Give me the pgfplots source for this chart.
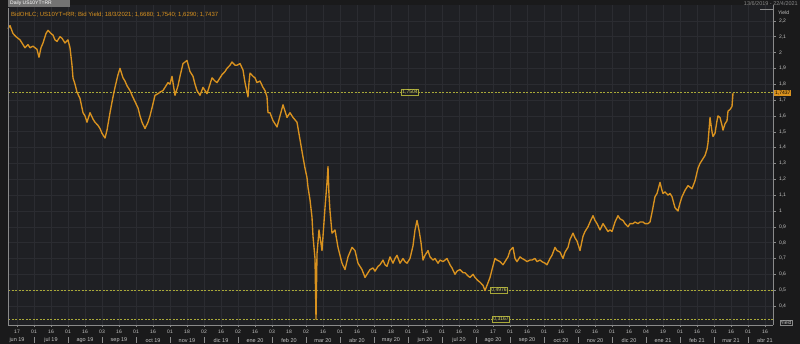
\documentclass[border=0pt]{standalone}
\usepackage{fontspec}
\setmainfont{Liberation Sans}
\usepackage{pgfplots}
\pgfplotsset{compat=1.18}
\definecolor{bgout}{HTML}{1A1A1B}
\definecolor{bgplot}{HTML}{1F2024}
\definecolor{gridc}{HTML}{2B2C31}
\definecolor{linec}{HTML}{D9921F}
\definecolor{refc}{HTML}{A8A838}
\definecolor{reft}{HTML}{D8D860}
\definecolor{axc}{HTML}{8A8A8A}
\definecolor{txt}{HTML}{C4C4C4}
\begin{document}
\begin{tikzpicture}[x=1pt,y=1pt]
\fill[bgout] (-8,-19) rectangle (792,325);
\useasboundingbox (-8,-19) rectangle (792,325);
\begin{axis}[
  at={(0,0)}, anchor=south west,
  scale only axis, width=765pt, height=320pt,
  xmin=8, xmax=773, ymin=0.28, ymax=2.30,
  clip=false,
  axis background/.style={fill=bgplot},
  axis x line*=bottom, axis y line*=right,
  axis line style={axc, line width=0.5pt, -},
  tick align=outside,
  major tick length=2.5pt,
  tick style={axc, line width=0.4pt},
  xtick={17,34,51,68,85,102,119,136,153,170,187,204,221,238,255,272,289,306,323,340,357,374,391,408,425,442,459,476,493,510,527,544,561,578,595,612,629,646,663,680,697,714,731,748,765},
  xticklabels={17,01,16,01,16,03,16,01,16,01,18,02,16,02,16,03,18,02,16,01,16,01,18,01,16,01,16,03,17,01,16,01,16,02,16,01,16,04,19,01,16,01,16,01,16},
  ytick={0.4,0.5,0.6,0.7,0.8,0.9,1.0,1.1,1.2,1.3,1.4,1.5,1.6,1.7,1.8,1.9,2.0,2.1,2.2},
  grid=major, major grid style={gridc, line width=0.5pt},
  ticklabel style={font=\fontsize{5}{6}\selectfont, text=txt},
  /pgf/number format/assume math mode=true,
  yticklabel style={/pgf/number format/.cd, use comma, fixed, precision=1},
  xticklabel style={inner sep=1pt, yshift=-1.2pt},
]
% reference levels
\addplot[refc, line width=0.6pt, dash pattern=on 2pt off 1.5pt] coordinates {(8,1.7504) (773,1.7504)};
\addplot[refc, line width=0.6pt, dash pattern=on 2pt off 1.5pt] coordinates {(8,0.4976) (773,0.4976)};
\addplot[refc, line width=0.6pt, dash pattern=on 2pt off 1.5pt] coordinates {(8,0.3167) (773,0.3167)};
% yield series
\addplot[linec, line width=1.35pt, line join=round] coordinates {
(8,2.15)(10,2.17)(13,2.12)(16,2.10)(20,2.08)(23,2.05)(25,2.03)(28,2.05)(30,2.03)(33,2.04)
(37,2.02)(39,1.97)(41,2.03)(43,2.06)(46,2.12)(48,2.14)(51,2.12)(53,2.11)(55,2.08)(57,2.07)
(60,2.10)(62,2.09)(65,2.06)(68,2.08)(70,2.03)(72,1.92)(73,1.84)(75,1.80)(77,1.75)(80,1.71)
(83,1.62)(85,1.60)(87,1.56)(90,1.62)(93,1.58)(95,1.56)(98,1.54)(100,1.52)(102,1.49)(105,1.46)
(107,1.51)(110,1.62)(113,1.72)(115,1.78)(118,1.86)(120,1.90)(123,1.84)(125,1.82)(127,1.79)(130,1.76)
(132,1.73)(135,1.69)(138,1.65)(140,1.60)(142,1.56)(145,1.52)(148,1.56)(150,1.60)(152,1.65)(155,1.73)
(158,1.74)(160,1.75)(163,1.76)(165,1.78)(168,1.81)(170,1.80)(172,1.85)(175,1.73)(178,1.79)(180,1.85)
(183,1.93)(187,1.95)(190,1.88)(193,1.85)(195,1.80)(197,1.76)(200,1.73)(203,1.78)(205,1.76)(207,1.74)
(210,1.80)(212,1.84)(215,1.82)(217,1.81)(220,1.84)(222,1.86)(225,1.88)(227,1.90)(230,1.92)(232,1.94)
(235,1.92)(237,1.92)(240,1.93)(243,1.89)(245,1.81)(248,1.72)(249,1.81)(250,1.87)(253,1.85)(255,1.84)
(257,1.81)(260,1.82)(263,1.78)(265,1.76)(267,1.72)(268,1.62)(270,1.62)(273,1.57)(277,1.53)(280,1.60)
(283,1.67)(285,1.63)(287,1.59)(290,1.62)(293,1.59)(297,1.56)(300,1.45)(303,1.34)(305,1.27)(307,1.21)
(308,1.15)(310,1.07)(312,0.96)(313,0.84)(315,0.70)(316,0.3167)(317,0.73)(319,0.88)(322,0.75)(325,1.02)
(327,1.18)(328,1.28)(329,1.10)(330,1.00)(332,0.86)(335,0.88)(338,0.77)(340,0.72)(342,0.67)(345,0.63)
(348,0.71)(350,0.74)(352,0.77)(355,0.75)(358,0.67)(360,0.65)(362,0.63)(365,0.58)(368,0.61)(370,0.63)
(373,0.64)(375,0.62)(378,0.65)(380,0.66)(383,0.69)(385,0.66)(387,0.65)(390,0.71)(393,0.67)(395,0.70)
(397,0.72)(400,0.67)(403,0.70)(405,0.68)(407,0.67)(410,0.70)(413,0.78)(415,0.88)(417,0.94)(419,0.88)
(421,0.80)(423,0.69)(425,0.72)(428,0.75)(430,0.71)(433,0.69)(435,0.70)(438,0.67)(440,0.69)(443,0.68)
(447,0.70)(450,0.66)(452,0.64)(455,0.60)(457,0.62)(460,0.63)(463,0.61)(465,0.61)(468,0.59)(470,0.58)
(473,0.60)(475,0.58)(478,0.56)(480,0.55)(483,0.53)(485,0.4976)(487,0.53)(490,0.58)(492,0.63)(495,0.70)
(497,0.69)(500,0.68)(503,0.66)(505,0.68)(508,0.71)(510,0.75)(513,0.77)(515,0.70)(517,0.68)(520,0.71)
(522,0.70)(525,0.69)(527,0.68)(530,0.69)(532,0.69)(535,0.70)(537,0.68)(540,0.69)(542,0.68)(545,0.67)
(547,0.66)(550,0.70)(552,0.72)(555,0.77)(557,0.75)(560,0.74)(563,0.70)(565,0.74)(568,0.77)(570,0.82)
(573,0.86)(575,0.83)(577,0.81)(580,0.75)(583,0.84)(585,0.87)(588,0.90)(590,0.93)(593,0.97)(595,0.94)
(597,0.92)(600,0.88)(603,0.92)(605,0.90)(608,0.87)(610,0.88)(612,0.87)(615,0.93)(618,0.97)(620,0.95)
(623,0.94)(625,0.92)(628,0.90)(630,0.92)(633,0.92)(635,0.93)(638,0.92)(640,0.93)(643,0.93)(645,0.92)
(648,0.92)(650,0.93)(652,0.99)(655,1.09)(657,1.11)(660,1.18)(662,1.13)(663,1.11)(665,1.12)(668,1.10)
(670,1.11)(672,1.09)(675,1.02)(678,1.00)(680,1.05)(682,1.09)(685,1.13)(688,1.16)(690,1.15)(692,1.14)
(695,1.19)(698,1.27)(700,1.30)(702,1.32)(705,1.35)(707,1.39)(708,1.43)(710,1.59)(712,1.50)(713,1.47)
(715,1.49)(717,1.57)(718,1.60)(720,1.59)(722,1.54)(723,1.51)(725,1.55)(727,1.57)(728,1.63)(730,1.64)
(732,1.66)(733,1.7437)
};
% level labels
\node[fill=bgplot, draw=refc, line width=0.4pt, text=reft, inner sep=0.8pt, font=\fontsize{5}{6}\selectfont] at (axis cs:410,1.7504) {1,7504};
\node[fill=bgplot, draw=refc, line width=0.4pt, text=reft, inner sep=0.8pt, font=\fontsize{5}{6}\selectfont] at (axis cs:499,0.4976) {0,4976};
\node[fill=bgplot, draw=refc, line width=0.4pt, text=reft, inner sep=0.8pt, font=\fontsize{5}{6}\selectfont] at (axis cs:501,0.3167) {0,3167};
% last value tag
\node[fill=linec, text=black, anchor=west, inner sep=0.9pt, font=\fontsize{5}{6}\selectfont] at (axis cs:774,1.7437) {1,7437};
\end{axis}
% left frame line
\draw[axc, line width=0.5pt] (0,0) -- (0,317);
% header
\fill[black!55] (0,318) rectangle (62,325);
\node[anchor=west, text=white, inner sep=0pt, font=\fontsize{5}{6}\selectfont] at (2,321.5) {Daily US10YT=RR};
\node[anchor=west, text=linec, inner sep=0pt, font=\fontsize{6}{7}\selectfont] at (3,310.5) {BidOHLC; US10YT=RR; Bid Yield; 18/3/2021; 1,6680; 1,7540; 1,6290; 1,7437};
\node[anchor=east, text=axc, inner sep=0pt, font=\fontsize{5.5}{6}\selectfont] at (790,321.5) {13/6/2019 - 22/4/2021};
\draw[axc, line width=0.4pt] (752,316) -- (765,316);
\node[anchor=west, text=txt, inner sep=0pt, font=\fontsize{5}{6}\selectfont] at (770,312) {Yield};
\node[anchor=center, draw=axc, fill=bgout, text=txt, inner sep=0.8pt, line width=0.4pt, font=\fontsize{5}{6}\selectfont] at (778,2) {Yield};
% month labels
\foreach \xx/\lab in {9/jun 19,43/jul 19,77/ago 19,111/sep 19,145/oct 19,179/nov 19,213/dic 19,247/ene 20,281/feb 20,315/mar 20,349/abr 20,383/may 20,417/jun 20,451/jul 20,485/ago 20,519/sep 20,553/oct 20,587/nov 20,621/dic 20,655/ene 21,689/feb 21,723/mar 21,757/abr 21}
  \node[text=txt, inner sep=0pt, font=\fontsize{5.5}{6}\selectfont] at (\xx,-15.5) {\lab};
\foreach \xx in {26,60,94,128,162,196,230,264,298,332,366,400,434,468,502,536,570,604,638,672,706,740}
  \draw[axc, line width=0.4pt] (\xx,-12.5) -- (\xx,-18.5);
\end{tikzpicture}
\end{document}
